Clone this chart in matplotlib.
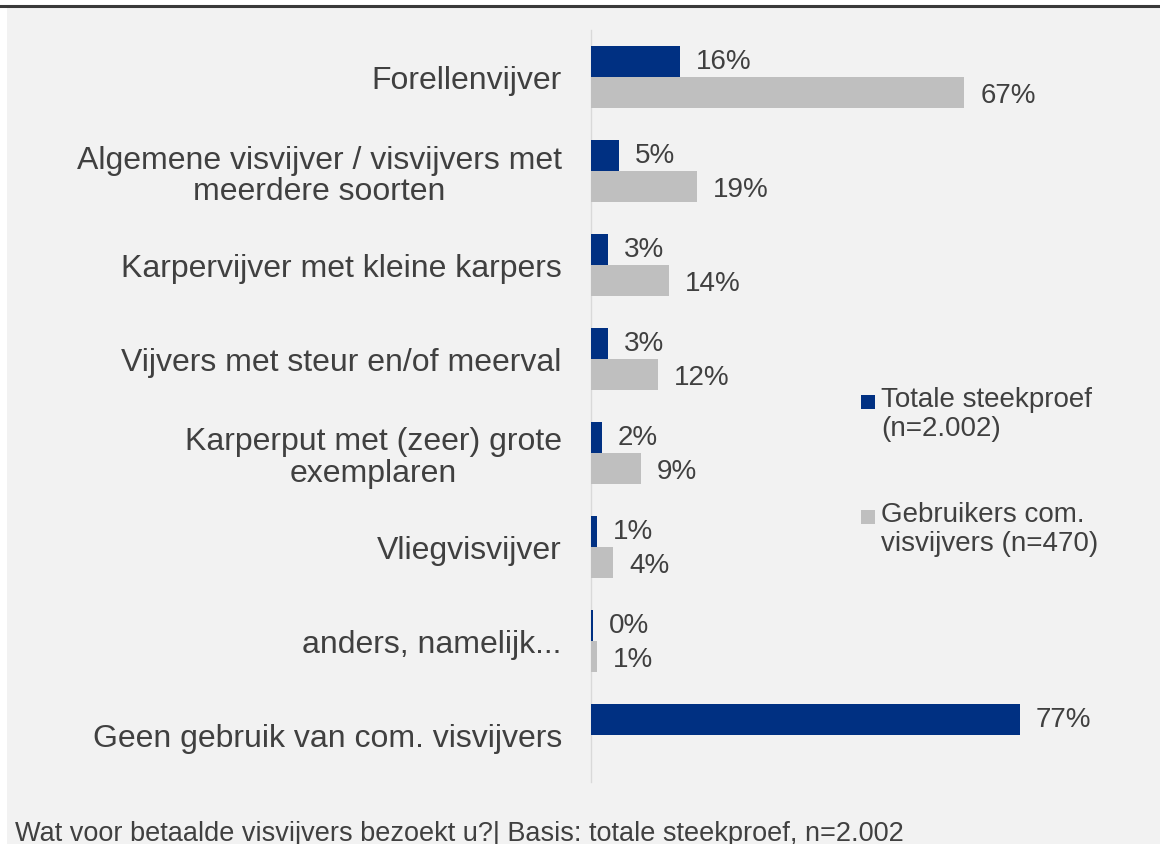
import matplotlib
matplotlib.use('Agg')
import matplotlib.pyplot as plt
from matplotlib.patches import Rectangle
from matplotlib.lines import Line2D
import numpy as np

categories = [
    'Forellenvijver',
    'Algemene visvijver / visvijvers met\nmeerdere soorten',
    'Karpervijver met kleine karpers',
    'Vijvers met steur en/of meerval',
    'Karperput met (zeer) grote\nexemplaren',
    'Vliegvisvijver',
    'anders, namelijk...',
    'Geen gebruik van com. visvijvers',
]
totaal = [16, 5, 3, 3, 2, 1, 0.4, 77]
gebruikers = [67, 19, 14, 12, 9, 4, 1, None]
series_labels = ['Totale steekproef\n(n=2.002)', 'Gebruikers com.\nvisvijvers (n=470)']
footer = 'Wat voor betaalde visvijvers bezoekt u?| Basis: totale steekproef, n=2.002'

NAVY = '#003082'
GREY = '#bfbfbf'
TXT = '#404040'
W, H = 1160, 845

plt.rcParams['font.family'] = ['Liberation Sans', 'DejaVu Sans']

fig = plt.figure(figsize=(W / 100, H / 100), dpi=100, facecolor='white')

# background panel and top rule
fig.add_artist(Rectangle((7 / W, 0), 1, 1 - 9 / H, transform=fig.transFigure,
                         facecolor='#f2f2f2', edgecolor='none', zorder=0))
fig.add_artist(Line2D([0, 1], [1 - 6.5 / H, 1 - 6.5 / H], transform=fig.transFigure,
                      color='#3a3a3a', lw=2.2, zorder=1))

ax = fig.add_axes([591 / W, 1 - 783 / H, 557 / W, 752 / H])
ax.set_facecolor('none')

y = np.arange(len(categories))
h = 0.33
ax.barh(y - h / 2, totaal, height=h, color=NAVY, zorder=3)
g_vals = [v if v is not None else 0 for v in gebruikers]
ax.barh(y + h / 2, g_vals, height=h, color=GREY, zorder=3)

for yi, v in zip(y, totaal):
    ax.annotate(f'{v:.0f}%', (v, yi - h / 2), xytext=(11.5, 0), textcoords='offset points',
                va='center', ha='left', fontsize=20, color=TXT)
for yi, v in zip(y, gebruikers):
    if v is None:
        continue
    ax.annotate(f'{v:.0f}%', (v, yi + h / 2 + 0.03), xytext=(11.5, 0), textcoords='offset points',
                va='center', ha='left', fontsize=20, color=TXT)

ax.set_xlim(0, 100)
ax.set_ylim(len(categories) - 0.5, -0.5)
ax.set_xticks([])
ax.set_yticks(y, categories)
ax.tick_params(axis='y', length=0, pad=21, labelsize=23, labelcolor=TXT)
for lbl in ax.get_yticklabels():
    lbl.set_multialignment('center')
    lbl.set_linespacing(1.05)
for s in ['top', 'right', 'bottom']:
    ax.spines[s].set_visible(False)
ax.spines['left'].set_color('#d9d9d9')
ax.spines['left'].set_linewidth(1)

# legend
leg = [(NAVY, series_labels[0], 403), (GREY, series_labels[1], 518)]
for col, lab, yc in leg:
    fig.add_artist(Rectangle((861 / W, 1 - (yc + 7) / H), 14 / W, 14 / H,
                             transform=fig.transFigure, facecolor=col, edgecolor='none'))
    fig.text(881 / W, 1 - (yc - 16) / H, lab, fontsize=20, color=TXT,
             ha='left', va='top', linespacing=1.15)

fig.text(15 / W, 4 / H, footer, fontsize=19.5, color=TXT, ha='left', va='baseline')

fig.savefig('out.png', dpi=100, facecolor=fig.get_facecolor())
